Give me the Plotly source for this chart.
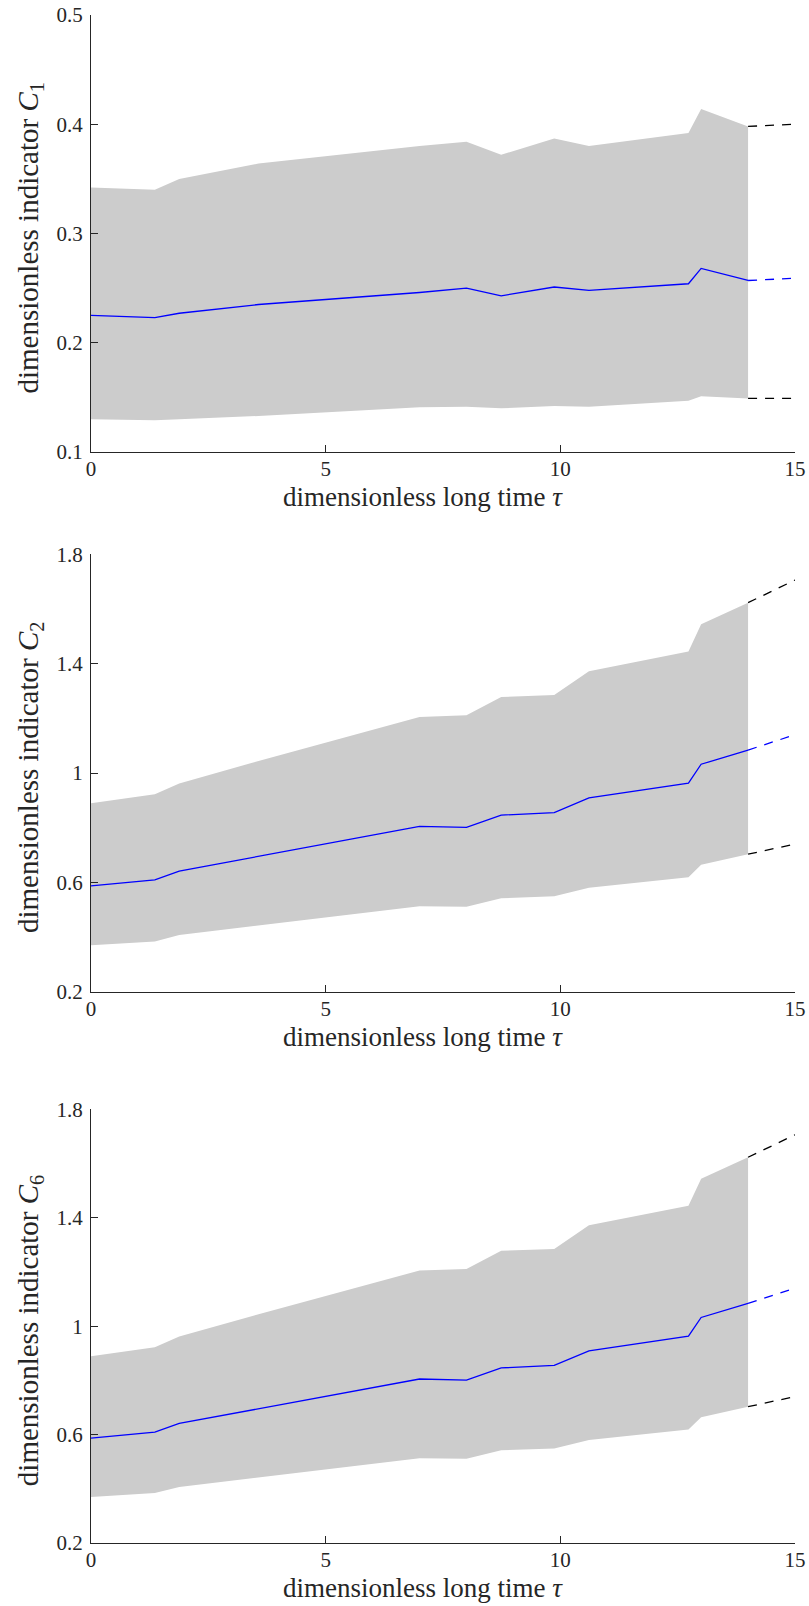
import plotly.graph_objects as go

# ---------------- data ----------------
tau = [0, 1.36, 1.88, 3.57, 7.0, 8.0, 8.74, 9.87, 10.61, 12.73, 13.0, 14.0]
tau_ext = [14.0, 15.0]

c1_upper = [0.342, 0.340, 0.350, 0.364, 0.380, 0.384, 0.372, 0.387, 0.380, 0.392, 0.414, 0.398]
c1_mean = [0.225, 0.223, 0.227, 0.235, 0.246, 0.250, 0.243, 0.251, 0.248, 0.254, 0.268, 0.257]
c1_lower = [0.130, 0.129, 0.130, 0.133, 0.141, 0.1415, 0.140, 0.142, 0.1415, 0.147, 0.151, 0.149]
c1_upper_ext = [0.398, 0.400]
c1_mean_ext = [0.257, 0.259]
c1_lower_ext = [0.149, 0.149]

c2_upper = [0.889, 0.922, 0.962, 1.044, 1.205, 1.211, 1.278, 1.285, 1.372, 1.444, 1.544, 1.623]
c2_mean = [0.587, 0.609, 0.641, 0.695, 0.805, 0.801, 0.846, 0.855, 0.909, 0.963, 1.032, 1.084]
c2_lower = [0.370, 0.384, 0.407, 0.442, 0.513, 0.511, 0.542, 0.549, 0.580, 0.619, 0.664, 0.703]
c2_upper_ext = [1.623, 1.706]
c2_mean_ext = [1.084, 1.140]
c2_lower_ext = [0.703, 0.740]

c6_upper = [0.889, 0.922, 0.962, 1.044, 1.205, 1.211, 1.278, 1.285, 1.372, 1.444, 1.544, 1.623]
c6_mean = [0.587, 0.609, 0.641, 0.695, 0.805, 0.801, 0.846, 0.855, 0.909, 0.963, 1.032, 1.084]
c6_lower = [0.370, 0.384, 0.407, 0.442, 0.513, 0.511, 0.542, 0.549, 0.580, 0.619, 0.664, 0.703]
c6_upper_ext = [1.623, 1.706]
c6_mean_ext = [1.084, 1.140]
c6_lower_ext = [0.703, 0.740]

x_ticks = [0, 5, 10, 15]
c1_ticks = [0.1, 0.2, 0.3, 0.4, 0.5]
c1_ticktext = ["0.1", "0.2", "0.3", "0.4", "0.5"]
c2_ticks = [0.2, 0.6, 1.0, 1.4, 1.8]
c2_ticktext = ["0.2", "0.6", "1", "1.4", "1.8"]

x_title = "dimensionless long time <i>τ</i>"
y_titles = ["dimensionless indicator <i>C</i><sub>1</sub>",
            "dimensionless indicator <i>C</i><sub>2</sub>",
            "dimensionless indicator <i>C</i><sub>6</sub>"]

# ---------------- layout geometry ----------------
W, H = 809, 1606
ML, MR, MT, MB = 91, 14, 15, 63
PW = W - ML - MR
PH = H - MT - MB


def py(p):  # pixel row -> paper y
    return (H - MB - p) / PH


def px(p):  # pixel col -> paper x
    return (p - ML) / PW


panels = [
    dict(up=c1_upper, mean=c1_mean, lo=c1_lower, upx=c1_upper_ext, mx=c1_mean_ext, lox=c1_lower_ext,
         top=15, bot=452, yr=[0.1, 0.5], tv=c1_ticks, tt=c1_ticktext),
    dict(up=c2_upper, mean=c2_mean, lo=c2_lower, upx=c2_upper_ext, mx=c2_mean_ext, lox=c2_lower_ext,
         top=554.3, bot=991.7, yr=[0.2, 1.8], tv=c2_ticks, tt=c2_ticktext),
    dict(up=c6_upper, mean=c6_mean, lo=c6_lower, upx=c6_upper_ext, mx=c6_mean_ext, lox=c6_lower_ext,
         top=1109.3, bot=1543.0, yr=[0.2, 1.8], tv=c2_ticks, tt=c2_ticktext),
]

AXC = "#262626"
FONT = "Liberation Serif"
GRAY = "#cccccc"
BLUE = "#0000ff"
DASH = "9px,8px"
TICKSIZE = 21

fig = go.Figure()
layout = dict(
    width=W, height=H, margin=dict(l=ML, r=MR, t=MT, b=MB),
    paper_bgcolor="white", plot_bgcolor="white", showlegend=False,
    font=dict(family=FONT, color=AXC, size=TICKSIZE),
)
annotations = []

for i, p in enumerate(panels):
    n = "" if i == 0 else str(i + 1)
    xa, ya = "x" + n, "y" + n
    fig.add_trace(go.Scatter(x=tau, y=p["lo"], mode="lines", line=dict(width=0, color=GRAY),
                             xaxis=xa, yaxis=ya, hoverinfo="skip"))
    fig.add_trace(go.Scatter(x=tau, y=p["up"], mode="lines", line=dict(width=0, color=GRAY),
                             fill="tonexty", fillcolor=GRAY, xaxis=xa, yaxis=ya, hoverinfo="skip"))
    fig.add_trace(go.Scatter(x=tau, y=p["mean"], mode="lines", line=dict(width=1.3, color=BLUE),
                             xaxis=xa, yaxis=ya))
    fig.add_trace(go.Scatter(x=tau_ext, y=p["upx"], mode="lines",
                             line=dict(width=1.3, color="black", dash=DASH), xaxis=xa, yaxis=ya))
    fig.add_trace(go.Scatter(x=tau_ext, y=p["lox"], mode="lines",
                             line=dict(width=1.3, color="black", dash=DASH), xaxis=xa, yaxis=ya))
    fig.add_trace(go.Scatter(x=tau_ext, y=p["mx"], mode="lines",
                             line=dict(width=1.3, color=BLUE, dash=DASH), xaxis=xa, yaxis=ya))

    layout["xaxis" + n] = dict(
        domain=[0, 1], range=[0, 15], anchor=ya, tickvals=x_ticks, ticks="inside", ticklen=7,
        tickcolor=AXC, tickwidth=1, showline=True, linecolor=AXC, linewidth=1, showgrid=False,
        zeroline=False, automargin=False, tickfont=dict(family=FONT, size=TICKSIZE, color=AXC),
        fixedrange=True, ticklabelstandoff=-2,
    )
    layout["yaxis" + n] = dict(
        domain=[py(p["bot"]), py(p["top"])], range=p["yr"], anchor=xa, tickvals=p["tv"],
        ticktext=p["tt"], ticks="inside", ticklen=7, tickcolor=AXC, tickwidth=1, showline=True,
        linecolor=AXC, linewidth=1, showgrid=False, zeroline=False, automargin=False,
        tickfont=dict(family=FONT, size=TICKSIZE, color=AXC), fixedrange=True,
        ticklabelstandoff=3,
    )
    # x-axis title
    annotations.append(dict(text=x_title, xref="paper", yref="paper", x=px(423),
                            y=py(p["bot"] + 45.0), xanchor="center", yanchor="middle",
                            showarrow=False, font=dict(family=FONT, size=27, color=AXC)))
    # y-axis title
    annotations.append(dict(text=y_titles[i], xref="paper", yref="paper", x=px(30),
                            y=py((p["top"] + p["bot"]) / 2 + 5), xanchor="center", yanchor="middle",
                            textangle=-90, showarrow=False, font=dict(family=FONT, size=29, color=AXC)))

layout["annotations"] = annotations
fig.update_layout(**layout)
fig.write_html(
    "out.html",
    config={"displayModeBar": False},
    post_script="document.body.style.margin='0';document.body.style.overflow='hidden';",
)
